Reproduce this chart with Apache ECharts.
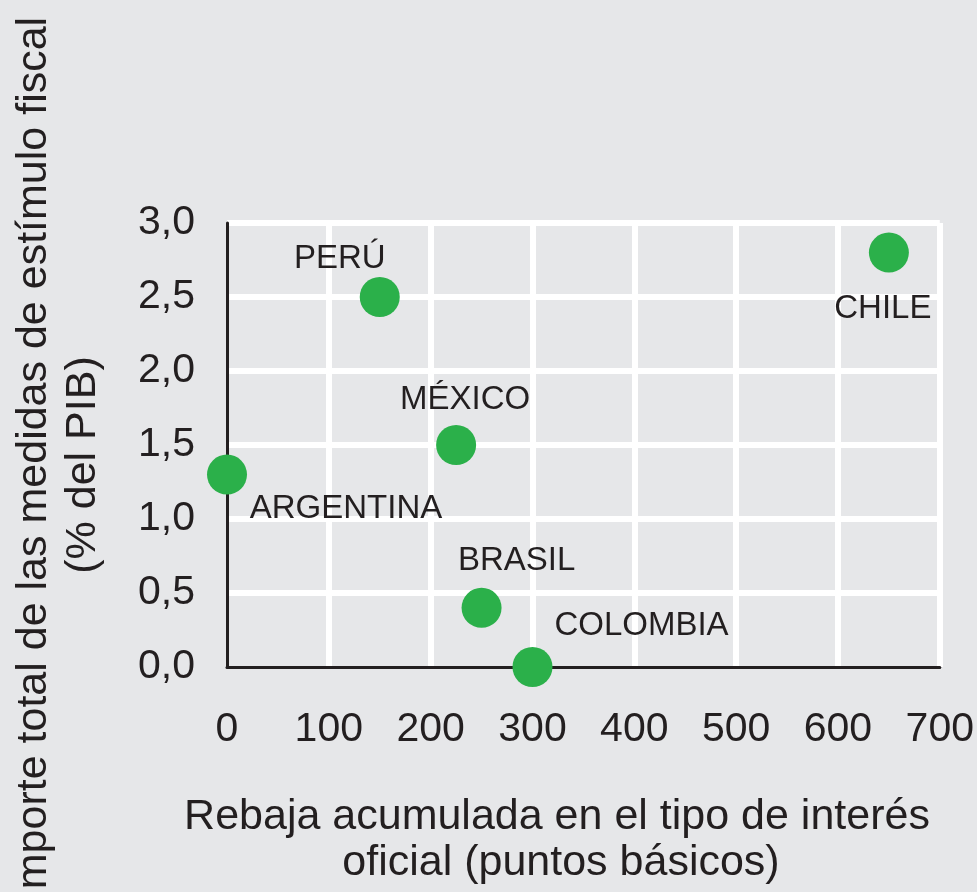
<!DOCTYPE html>
<html>
<head>
<meta charset="utf-8">
<script src="https://cdn.jsdelivr.net/npm/echarts@6/dist/echarts.min.js"></script>
<style>
html,body{margin:0;padding:0;background:#e6e7e9;}
#chart{width:977px;height:892px;}
</style>
</head>
<body>
<div id="chart"></div>
<script>
// ---- data ----
var countries = ['ARGENTINA', 'PERÚ', 'MÉXICO', 'BRASIL', 'COLOMBIA', 'CHILE'];
var rateCuts = [0, 150, 225, 250, 300, 650];          // puntos básicos
var fiscalStimulus = [1.3, 2.5, 1.5, 0.4, 0.0, 2.8];  // % del PIB
var xTicks = [0, 100, 200, 300, 400, 500, 600, 700];
var yTicks = [0.0, 0.5, 1.0, 1.5, 2.0, 2.5, 3.0];
var xTitle = ['Rebaja acumulada en el tipo de interés', 'oficial (puntos básicos)'];
var yTitle = ['Importe total de las medidas de estímulo fiscal', '(% del PIB)'];

// ---- label placement (style, not data) ----
var labelOffsets = {
  'ARGENTINA': [119, 34],
  'PERÚ': [-40, -38],
  'MÉXICO': [9, -45],
  'BRASIL': [35, -47],
  'COLOMBIA': [109, -41],
  'CHILE': [-6, 56]
};

var FONT = '"Liberation Sans", Arial, Helvetica, sans-serif';
var TXT = '#231f20';

var points = countries.map(function (c, i) {
  return {
    name: c,
    value: [rateCuts[i], fiscalStimulus[i]],
    label: { offset: labelOffsets[c] }
  };
});

function fmtY(v) { return v.toFixed(1).replace('.', ','); }

var chart = echarts.init(document.getElementById('chart'));
chart.setOption({
  backgroundColor: '#e6e7e9',
  animation: false,
  grid: { left: 227, right: 36, top: 223, bottom: 225, containLabel: false },
  xAxis: {
    type: 'value',
    min: xTicks[0], max: xTicks[xTicks.length - 1], interval: 100,
    axisLine: { show: true, lineStyle: { color: TXT, width: 3 } },
    axisTick: { show: false },
    axisLabel: { color: TXT, fontFamily: FONT, fontSize: 41, margin: 42 },
    splitLine: { show: true, showMinLine: false, lineStyle: { color: '#ffffff', width: 6 } }
  },
  yAxis: {
    type: 'value',
    min: yTicks[0], max: yTicks[yTicks.length - 1], interval: 0.5,
    axisLine: { show: true, lineStyle: { color: TXT, width: 3 } },
    axisTick: { show: false },
    axisLabel: { color: TXT, fontFamily: FONT, fontSize: 41, margin: 32, formatter: fmtY },
    splitLine: { show: true, showMinLine: false, lineStyle: { color: '#ffffff', width: 6 } }
  },
  series: [{
    type: 'scatter',
    clip: false,
    symbol: 'circle',
    symbolSize: 40,
    itemStyle: { color: '#2bb04a', opacity: 1 },
    label: {
      show: true,
      position: 'inside',
      formatter: '{b}',
      color: TXT,
      fontFamily: FONT,
      fontSize: 33
    },
    emphasis: { disabled: true },
    data: points
  }],
  graphic: [
    { type: 'text', x: 557, y: 817, silent: true,
      style: { text: xTitle[0], fill: TXT, font: '43px ' + FONT, textAlign: 'center', textVerticalAlign: 'middle', align: 'center', verticalAlign: 'middle' } },
    { type: 'text', x: 561, y: 863, silent: true,
      style: { text: xTitle[1], fill: TXT, font: '43px ' + FONT, textAlign: 'center', textVerticalAlign: 'middle', align: 'center', verticalAlign: 'middle' } },
    { type: 'text', x: 34, y: 459, rotation: Math.PI / 2, silent: true,
      style: { text: yTitle[0], fill: TXT, font: '43px ' + FONT, textAlign: 'center', textVerticalAlign: 'middle', align: 'center', verticalAlign: 'middle' } },
    { type: 'text', x: 83, y: 465, rotation: Math.PI / 2, silent: true,
      style: { text: yTitle[1], fill: TXT, font: '43px ' + FONT, textAlign: 'center', textVerticalAlign: 'middle', align: 'center', verticalAlign: 'middle' } }
  ]
});
</script>
</body>
</html>
